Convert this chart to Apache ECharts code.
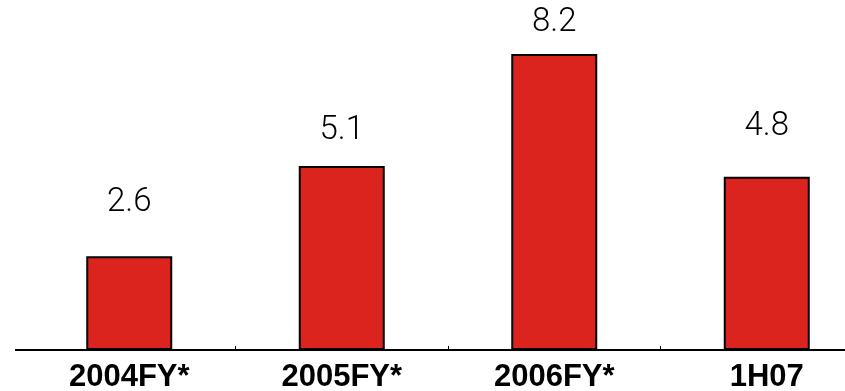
<!DOCTYPE html>
<html>
<head>
<meta charset="utf-8">
<script src="https://cdn.jsdelivr.net/npm/echarts@6/dist/echarts.min.js"></script>
<style>
html,body{margin:0;padding:0;background:#fff;}
#chart{width:845px;height:391px;}
</style>
</head>
<body>
<div id="chart"></div>
<script>
var categories = ['2004FY*', '2005FY*', '2006FY*', '1H07'];
var values = [2.6, 5.1, 8.2, 4.8];
var valueLabels = ['2.6', '5.1', '8.2', '4.8'];

var labelGaps = [37, 19, 15, 33];

var chart = echarts.init(document.getElementById('chart'));
chart.setOption({
  animation: false,
  grid: {left: 23, top: 0, right: -28, bottom: 41, containLabel: false, outerBoundsMode: 'none'},
  xAxis: {
    type: 'category',
    data: categories,
    axisLine: {show: true, lineStyle: {color: '#000', width: 2}},
    axisTick: {
      show: true, inside: true, length: 4,
      interval: function (index) { return index !== 0; },
      lineStyle: {color: '#000', width: 1}
    },
    axisLabel: {
      color: '#000',
      fontFamily: 'Liberation Sans, Arial, sans-serif',
      fontWeight: 'bold',
      fontSize: 31,
      margin: 12
    }
  },
  yAxis: {
    type: 'value',
    min: 0,
    max: 9.695,
    show: false,
    splitLine: {show: false}
  },
  graphic: [{
    type: 'line',
    shape: {x1: 15, y1: 350, x2: 24, y2: 350},
    style: {stroke: '#000', lineWidth: 2}
  }],
  series: [{
    type: 'bar',
    barWidth: 86,
    data: values.map(function (v, i) {
      return {
        value: v,
        label: {distance: labelGaps[i]}
      };
    }),
    itemStyle: {color: '#DC241F', borderColor: '#000', borderWidth: 2},
    label: {
      show: true,
      position: 'top',
      color: '#000',
      fontFamily: 'Roboto, sans-serif',
      fontWeight: 300,
      fontSize: 33,
      formatter: function (p) { return valueLabels[p.dataIndex]; }
    }
  }]
});
</script>
</body>
</html>
